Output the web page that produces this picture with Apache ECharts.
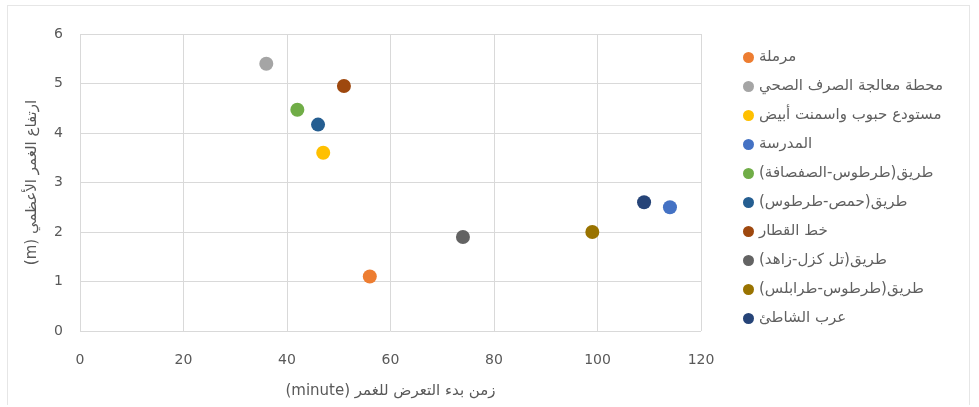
<!DOCTYPE html>
<html>
<head>
<meta charset="utf-8">
<script src="https://cdn.jsdelivr.net/npm/echarts@6/dist/echarts.min.js"></script>
<style>
  html, body { margin: 0; padding: 0; background: #fff; }
  #frame { position: absolute; left: 7px; top: 5px; width: 963px; height: 400px; border: 1px solid #e6e6e6; border-bottom: none; box-sizing: border-box; }
  #chart { position: absolute; left: 0; top: 0; width: 979px; height: 407px; direction: rtl; }
</style>
</head>
<body>
<div id="frame"></div>
<div id="chart" dir="rtl"></div>
<script>
const seriesNames = [
  'مرملة',
  'محطة معالجة الصرف الصحي',
  'مستودع حبوب واسمنت أبيض',
  'المدرسة',
  'طريق(طرطوس-الصفصافة)',
  'طريق(حمص-طرطوس)',
  'خط القطار',
  'طريق(تل كزل-زاهد)',
  'طريق(طرطوس-طرابلس)',
  'عرب الشاطئ'
];
const exposureStart = [56, 36, 47, 114, 42, 46, 51, 74, 99, 109];
const maxHeight = [1.1, 5.4, 3.6, 2.5, 4.47, 4.17, 4.95, 1.9, 2.0, 2.6];
const colors = ['#ED7D31', '#A5A5A5', '#FFC000', '#4472C4', '#70AD47', '#255E91', '#9E480E', '#636363', '#997300', '#264478'];
const xTitle = 'زمن بدء التعرض للغمر (minute)';
const yTitle = 'ارتفاع الغمر الأعظمي (m)';

const chart = echarts.init(document.getElementById('chart'), null, { renderer: 'canvas' });
const font = 'DejaVu Sans, sans-serif';
chart.setOption({
  animation: false,
  color: colors,
  textStyle: { fontFamily: font },
  grid: { left: 80, right: 278, top: 34, bottom: 76, containLabel: false },
  legend: {
    orient: 'vertical',
    left: 738,
    top: 45,
    icon: 'circle',
    itemWidth: 11,
    itemHeight: 11,
    itemGap: 14,
    textStyle: { color: '#606060', fontSize: 15, lineHeight: 15, fontFamily: font },
    data: seriesNames
  },
  xAxis: {
    type: 'value', min: 0, max: 120, interval: 20,
    name: xTitle, nameLocation: 'middle', nameGap: 53,
    nameTextStyle: { color: '#595959', fontSize: 15, fontFamily: font },
    axisLine: { show: false }, axisTick: { show: false },
    axisLabel: { color: '#595959', fontSize: 14, margin: 22, fontFamily: font },
    splitLine: { lineStyle: { color: '#d9d9d9', width: 1 } }
  },
  yAxis: {
    type: 'value', min: 0, max: 6, interval: 1,
    name: yTitle, nameLocation: 'middle', nameGap: 40, nameRotate: 90,
    nameTextStyle: { color: '#595959', fontSize: 15, fontFamily: font },
    axisLine: { show: false }, axisTick: { show: false },
    axisLabel: { color: '#595959', fontSize: 14, margin: 17, fontFamily: font },
    splitLine: { lineStyle: { color: '#d9d9d9', width: 1 } }
  },
  series: seriesNames.map((n, i) => ({
    name: n,
    type: 'scatter',
    symbol: 'circle',
    symbolSize: 14,
    itemStyle: { color: colors[i], opacity: 1 },
    data: [[exposureStart[i], maxHeight[i]]]
  }))
});
</script>
</body>
</html>
